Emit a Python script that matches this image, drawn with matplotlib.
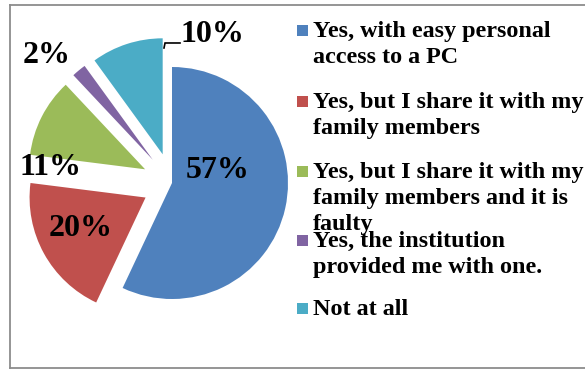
import matplotlib.pyplot as plt
from matplotlib.patches import Rectangle
from matplotlib.lines import Line2D

# Survey answers and their shares (%)
answers = [
    ["Yes, with easy personal", "access to a PC"],
    ["Yes, but I share it with my", "family members"],
    ["Yes, but I share it with my", "family members and it is", "faulty"],
    ["Yes, the institution", "provided me with one."],
    ["Not at all"],
]
shares = [57, 20, 11, 2, 10]
colors = ["#4F81BD", "#C0504D", "#9BBB59", "#8064A2", "#4BACC6"]
explode = [0, 0.26, 0.26, 0.26, 0.26]

# where each percentage label sits (data units, pie radius = 1)
label_pos = [(0.39, 0.11), (-0.79, -0.39), (-1.05, 0.13), (-1.08, 1.10), (0.35, 1.28)]

W, H = 585, 370
fig = plt.figure(figsize=(W / 100, H / 100), dpi=100)
serif = ["Liberation Serif", "DejaVu Serif"]

# --- pie ---
cx, cy, r_px = 172, 183, 116
lim = 1.45
half = lim * r_px
ax = fig.add_axes([(cx - half) / W, (H - cy - half) / H, 2 * half / W, 2 * half / H])
ax.pie(shares, colors=colors, explode=explode, startangle=90, counterclock=False,
       radius=1, wedgeprops=dict(linewidth=0))
ax.set_xlim(-lim, lim)
ax.set_ylim(-lim, lim)
ax.set_aspect("equal")
ax.axis("off")

for v, (x, y) in zip(shares, label_pos):
    ax.text(x, y, f"{v}%", ha="center", va="center", fontsize=23,
            fontweight="bold", family=serif, color="black")

# leader line for the 10% label
ax.plot([-0.069, -0.06, 0.069], [1.164, 1.207, 1.207], color="black", lw=1.2,
        solid_joinstyle="miter")

# --- legend, drawn by hand so the entries keep a fixed spacing ---
baselines = [37, 108, 178, 247, 315]
line_gap = 26
text_x = 313
for lines, c, b in zip(answers, colors, baselines):
    for i, line in enumerate(lines):
        fig.text(text_x / W, (H - b - i * line_gap) / H, line, ha="left",
                 va="baseline", fontsize=17.4, fontweight="bold", family=serif)
    fig.add_artist(Rectangle((297 / W, (H - b + 1) / H), 11 / W, 11 / H,
                             transform=fig.transFigure, color=c, lw=0))

# --- chart frame ---
fr = dict(color="#8c8c8c", lw=1.3, transform=fig.transFigure)
left, top, bottom = 10, 5, 368
fig.add_artist(Line2D([left / W, left / W], [(H - bottom) / H, (H - top) / H], **fr))
fig.add_artist(Line2D([left / W, 1], [(H - top) / H, (H - top) / H], **fr))
fig.add_artist(Line2D([left / W, 1], [(H - bottom) / H, (H - bottom) / H], **fr))

fig.savefig("out.png", dpi=100)
